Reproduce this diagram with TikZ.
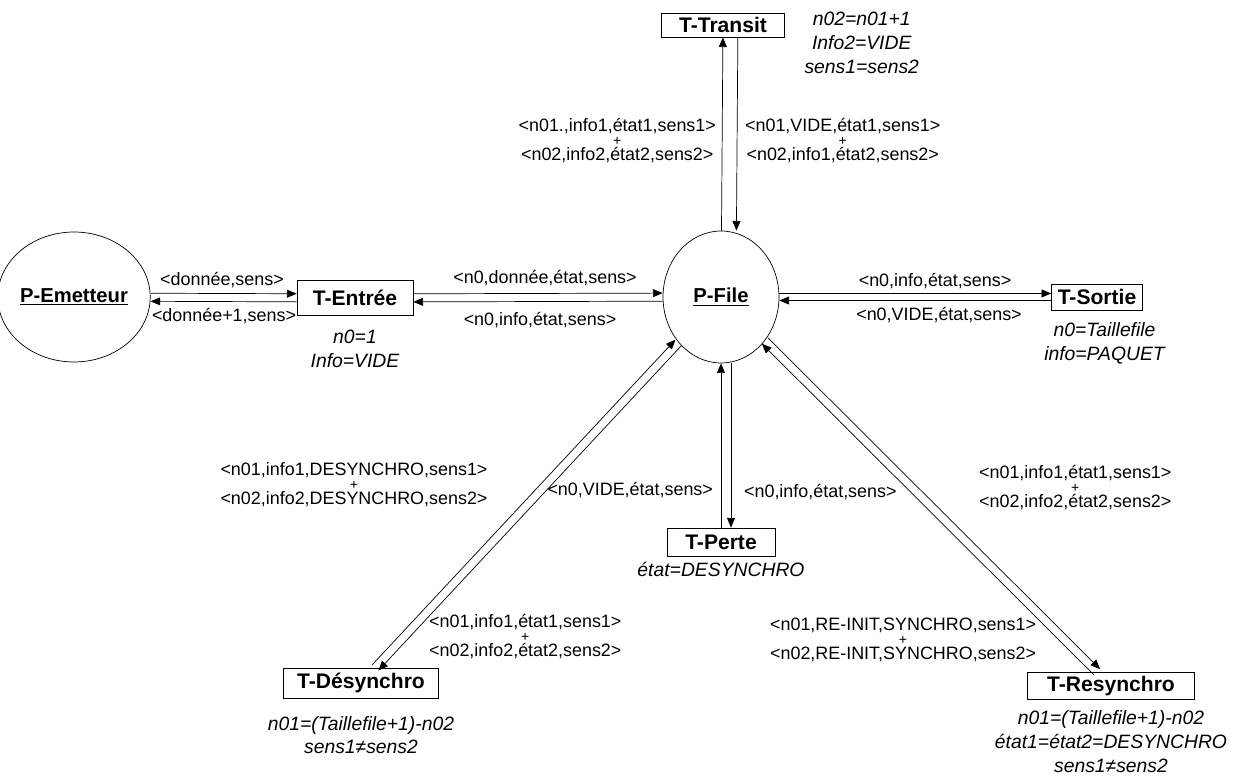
\documentclass[tikz,border=0pt]{standalone}
\usepackage{fontspec}
\setmainfont{Liberation Sans}
\usetikzlibrary{positioning,arrows.meta,shapes,calc}
\tikzstyle{place}=[ellipse,draw,thin,inner sep=0pt,font=\bfseries\fontsize{11.5}{13}\selectfont]
\tikzstyle{trans}=[rectangle,draw,thin,inner sep=2pt,font=\bfseries\fontsize{12}{14}\selectfont]
\tikzstyle{arc}=[draw=black,thin,-{Triangle[length=5.5pt,width=4.5pt]}]
\tikzstyle{lbl}=[inner sep=1pt,align=center,font=\fontsize{10.2}{16.5}\selectfont]
\tikzstyle{plus}=[inner sep=0pt,font=\fontsize{8}{8}\selectfont]
\tikzstyle{note}=[inner sep=1pt,align=center,font=\itshape\fontsize{11}{13.5}\selectfont]
\tikzset{off/.style={transform canvas={shift={(#1)}}}}

\begin{document}
\begin{tikzpicture}[x=0.02cm,y=-0.02cm]
  \useasboundingbox (0,0) rectangle (1242,780);

  % places
  \node[place,minimum width=2.36cm,minimum height=2.6cm] (emet) at (74,297) {\underline{P-Emetteur}};
  \node[place,minimum width=2.32cm,minimum height=2.64cm] (file) at (721,297) {\underline{P-File}};

  % transitions
  \foreach \pos/\name/\boxw/\boxh/\txt in {{(355,298)/entree/2.32cm/0.7cm/T-Entrée}, {(723,25)/transit/2.46cm/0.48cm/T-Transit},
                                           {(1097,297)/sortie/1.82cm/0.52cm/T-Sortie}, {(721,542)/perte/2.16cm/0.56cm/T-Perte},
                                           {(361,683)/desync/3.1cm/0.6cm/T-Désynchro}, {(1111,686)/resync/3.34cm/0.54cm/T-Resynchro}}
    \node[trans,minimum width=\boxw,minimum height=\boxh] (\name) at \pos {\txt};

  % guards
  \node[note,below=7pt of entree] {n0=1\\Info=VIDE};
  \node[note,right=10pt of transit,yshift=-0.36cm] {n02=n01+1\\Info2=VIDE\\sens1=sens2};
  \node[note,below=6pt of sortie,xshift=0.15cm] {n0=Taillefile\\info=PAQUET};
  \node[note,below=2pt of perte] {état=DESYNCHRO};
  \node[note,below=9pt of desync] {n01=(Taillefile+1)-n02\\sens1≠sens2};
  \node[note,below=5pt of resync] {n01=(Taillefile+1)-n02\\état1=état2=DESYNCHRO\\sens1≠sens2};

  % arcs, two per pair
  \foreach \source/\dest/\ang/\dist in {emet/entree/90/2.3pt, entree/emet/-90/2.3pt, entree/file/90/2.3pt, file/entree/-90/2.3pt,
                                        file/sortie/90/2pt, sortie/file/-90/2pt, file/transit/180/0pt, transit/file/0/8.5pt,
                                        perte/file/180/0pt, file/perte/0/5.7pt, desync/file/137/2.4pt, file/desync/-43/2.4pt,
                                        resync/file/225/2.4pt, file/resync/45/2.4pt}
    \path[arc,off=\ang:\dist] (\source) -- (\dest);

  % arc inscriptions
  \node[lbl] at (222,280) {<donnée,sens>};
  \node[lbl] at (224,316) {<donnée+1,sens>};
  \node[lbl] at (545,278) {<n0,donnée,état,sens>};
  \node[lbl] at (540,320) {<n0,info,état,sens>};
  \node[lbl] at (935,281) {<n0,info,état,sens>};
  \node[lbl] at (939,315) {<n0,VIDE,état,sens>};
  \node[lbl,anchor=east,label={[plus]center:+}] at (718,141) {<n01.,info1,état1,sens1>\\<n02,info2,état2,sens2>};
  \node[lbl,anchor=west,label={[plus]center:+}] at (743,141) {<n01,VIDE,état1,sens1>\\<n02,info1,état2,sens2>};
  \node[lbl,label={[plus]center:+}] at (354,485) {<n01,info1,DESYNCHRO,sens1>\\<n02,info2,DESYNCHRO,sens2>};
  \node[lbl,anchor=east] at (715,490) {<n0,VIDE,état,sens>};
  \node[lbl,anchor=west] at (742,492) {<n0,info,état,sens>};
  \node[lbl,anchor=west,label={[plus]center:+}] at (977,488) {<n01,info1,état1,sens1>\\<n02,info2,état2,sens2>};
  \node[lbl,anchor=west,label={[plus]center:+}] at (427,637) {<n01,info1,état1,sens1>\\<n02,info2,état2,sens2>};
  \node[lbl,anchor=west,label={[plus]center:+}] at (768,640) {<n01,RE-INIT,SYNCHRO,sens1>\\<n02,RE-INIT,SYNCHRO,sens2>};
\end{tikzpicture}
\end{document}
